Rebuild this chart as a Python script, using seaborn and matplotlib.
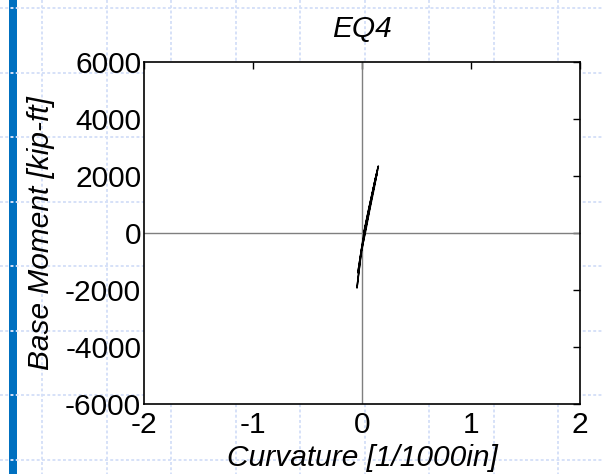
import matplotlib
matplotlib.use("Agg")
import matplotlib.pyplot as plt
import seaborn as sns
import pandas as pd
from matplotlib.lines import Line2D
from matplotlib.patches import Rectangle

# ---- data ----
curvature = [0.016, 0.048, 0.082, 0.116, 0.150,
             0.122, 0.086, 0.050, 0.022, -0.006, -0.026, -0.046,
             -0.034, -0.010, 0.026, 0.062, 0.098, 0.138,
             0.108, 0.070, 0.030, -0.010, -0.038,
             -0.018, 0.018, 0.066, 0.112, 0.142,
             0.096, 0.052, 0.018]
moment = [0, 600, 1200, 1800, 2350,
          1900, 1200, 500, 0, -600, -1300, -1930,
          -1500, -800, 0, 700, 1400, 2100,
          1500, 800, 0, -700, -1400,
          -900, 0, 900, 1700, 2200,
          1400, 600, 0]
xticks = [-2, -1, 0, 1, 2]
yticks = [-6000, -4000, -2000, 0, 2000, 4000, 6000]
title = "EQ4"
xlabel = "Curvature [1/1000in]"
ylabel = "Base Moment [kip-ft]"

df = pd.DataFrame({"c": curvature, "m": moment})

sns.set_theme(style="white")
plt.rcParams['font.family'] = ['Liberation Sans', 'DejaVu Sans']
plt.rcParams['text.color'] = 'black'
plt.rcParams['axes.labelcolor'] = 'black'

W, H = 603, 474
fig = plt.figure(figsize=(W / 100, H / 100), dpi=100)
fig.patch.set_facecolor("white")

# background grid pattern
bg = fig.add_axes([0, 0, 1, 1])
bg.set_xlim(0, W)
bg.set_ylim(H, 0)
bg.axis("off")
gx = [42 + 64.5 * k for k in range(10)]
gy = [8 + 64.5 * k for k in range(8)]
for x in gx:
    bg.add_line(Line2D([x, x], [0, H], color="#d6e1f8", lw=1.4, ls=(0, (1.5, 1.2))))
for y in gy:
    bg.add_line(Line2D([0, W], [y, y], color="#d6e1f8", lw=1.4, ls=(0, (1.5, 1.2))))
bg.add_patch(Rectangle((9, 0), 8, H, color="#0070c0", lw=0))

ax = fig.add_axes([144 / W, 1 - 404 / H, (580 - 144) / W, (404 - 62) / H])
ax.set_facecolor("white")
ax.axhline(0, color="#7f7f7f", lw=1, zorder=1)
ax.axvline(0, color="#7f7f7f", lw=1, zorder=1)
sns.lineplot(data=df, x="c", y="m", sort=False, estimator=None, color="black",
             lw=1.1, ax=ax, zorder=3)

ax.set_xlim(-2, 2)
ax.set_ylim(-6000, 6000)
ax.set_xticks(xticks)
ax.set_yticks(yticks)
ax.set_xticklabels([str(t) for t in xticks])
ax.set_yticklabels([str(t) for t in yticks])
ax.tick_params(direction="in", length=5, width=1, top=True, right=True,
               labelsize=21.5, colors="black", pad=2)
ax.tick_params(axis="x", pad=5)
for s in ax.spines.values():
    s.set_color("black")
    s.set_linewidth(1.2)
    s.set_visible(True)

ax.set_xlabel(xlabel, fontsize=21.5, style="italic", labelpad=4, color="black")
ax.set_ylabel(ylabel, fontsize=21.5, style="italic", labelpad=7, color="black")
ax.set_title(title, fontsize=21.5, style="italic", pad=18, color="black")

fig.savefig("out.png", dpi=100)
